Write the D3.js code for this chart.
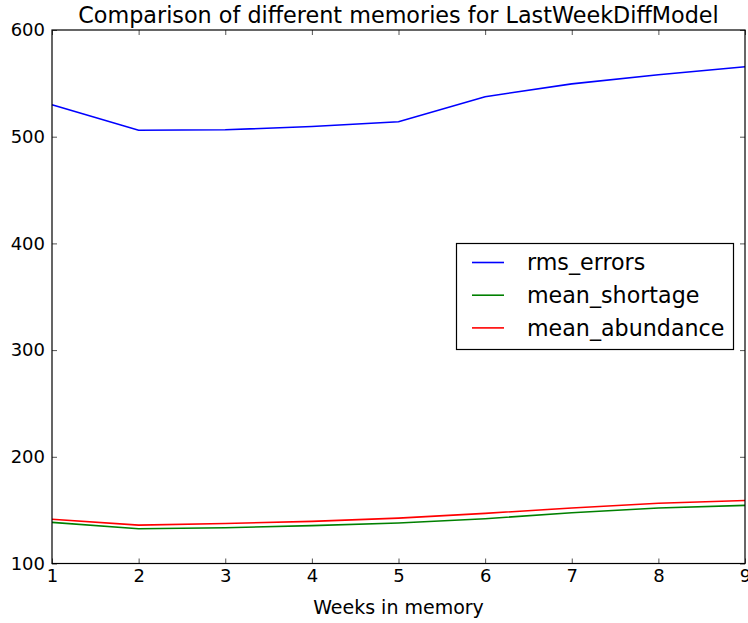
<!DOCTYPE html>
<html>
<head>
<meta charset="utf-8">
<script src="https://cdn.jsdelivr.net/npm/d3@7"></script>
<style>
  html, body { margin: 0; padding: 0; background: #fff; }
  svg { display: block; font-family: "DejaVu Sans", sans-serif; }
</style>
</head>
<body>
<svg id="chart" width="748" height="623"></svg>
<script>
// Weeks kept in memory (x axis)
const weeks = [1, 2, 3, 4, 5, 6, 7, 8, 9];

// Error measures per memory length
const rmsErrors     = [530, 506, 506.5, 509.5, 514, 537.5, 549.5, 558, 565.5];
const meanShortage  = [138.5, 132.5, 133.5, 135.5, 138, 142, 147.5, 152, 154.5];
const meanAbundance = [141.5, 136, 137.5, 139.5, 142.5, 147, 152, 156.5, 159];

const seriesNames  = ["rms_errors", "mean_shortage", "mean_abundance"];
const seriesColors = ["#0000ff", "#008000", "#ff0000"];
const seriesValues = [rmsErrors, meanShortage, meanAbundance];

const xTicks = [1, 2, 3, 4, 5, 6, 7, 8, 9];
const yTicks = [100, 200, 300, 400, 500, 600];

const titleText = "Comparison of different memories for LastWeekDiffModel";
const xLabelText = "Weeks in memory";

const margin = { left: 52, right: 3, top: 30, bottom: 59.5 };
const W = 748, H = 623;
const svg = d3.select("#chart");

const x = d3.scaleLinear().domain([1, 9]).range([margin.left, W - margin.right]);
const y = d3.scaleLinear().domain([100, 600]).range([H - margin.bottom, margin.top]);

const tickLen = 5;
const tickColor = "#555";

// Inward ticks on all four sides
function styleAxis(g) {
  g.select(".domain").remove();
  g.selectAll(".tick line").attr("stroke", tickColor).attr("stroke-width", 1);
  g.selectAll(".tick text").attr("fill", "#000").attr("font-family", "DejaVu Sans, sans-serif");
}

svg.append("g")
  .attr("transform", `translate(0,${y(100)})`)
  .call(d3.axisBottom(x).tickValues(xTicks).tickFormat(d3.format("d"))
        .tickSizeInner(-tickLen).tickSizeOuter(0).tickPadding(6))
  .call(styleAxis)
  .call(g => g.selectAll(".tick text").attr("font-size", 18));

svg.append("g")
  .attr("transform", `translate(0,${y(600)})`)
  .call(d3.axisTop(x).tickValues(xTicks).tickFormat("")
        .tickSizeInner(-tickLen).tickSizeOuter(0))
  .call(styleAxis);

svg.append("g")
  .attr("transform", `translate(${x(1)},0)`)
  .call(d3.axisLeft(y).tickValues(yTicks).tickFormat(d3.format("d"))
        .tickSizeInner(-tickLen).tickSizeOuter(0).tickPadding(7))
  .call(styleAxis)
  .call(g => g.selectAll(".tick text").attr("font-size", 18));

svg.append("g")
  .attr("transform", `translate(${x(9)},0)`)
  .call(d3.axisRight(y).tickValues(yTicks).tickFormat("")
        .tickSizeInner(-tickLen).tickSizeOuter(0))
  .call(styleAxis);

// Data lines
const line = d3.line().x((d, i) => x(weeks[i])).y(d => y(d));
seriesValues.forEach((vals, k) => {
  svg.append("path")
    .datum(vals)
    .attr("fill", "none")
    .attr("stroke", seriesColors[k])
    .attr("stroke-width", 1.6)
    .attr("d", line);
});

// Axes frame
svg.append("rect")
  .attr("x", x(1)).attr("y", y(600))
  .attr("width", x(9) - x(1)).attr("height", y(100) - y(600))
  .attr("fill", "none").attr("stroke", "#000").attr("stroke-width", 1.2);

// Title and axis label
svg.append("text")
  .attr("x", (x(1) + x(9)) / 2).attr("y", 23)
  .attr("text-anchor", "middle").attr("font-size", 22.3)
  .text(titleText);

svg.append("text")
  .attr("x", (x(1) + x(9)) / 2).attr("y", 614)
  .attr("text-anchor", "middle").attr("font-size", 19)
  .text(xLabelText);

// Legend
const legend = svg.append("g");
legend.append("rect")
  .attr("x", 456.5).attr("y", 243.5).attr("width", 277).attr("height", 106)
  .attr("fill", "#fff").attr("stroke", "#000").attr("stroke-width", 1.2);
seriesNames.forEach((name, k) => {
  const ly = 262.5 + k * 32.7;
  legend.append("line")
    .attr("x1", 472).attr("x2", 504).attr("y1", ly).attr("y2", ly)
    .attr("stroke", seriesColors[k]).attr("stroke-width", 1.6);
  legend.append("text")
    .attr("x", 527).attr("y", ly).attr("dy", "0.35em")
    .attr("font-size", 22.2)
    .text(name);
});
</script>
</body>
</html>
